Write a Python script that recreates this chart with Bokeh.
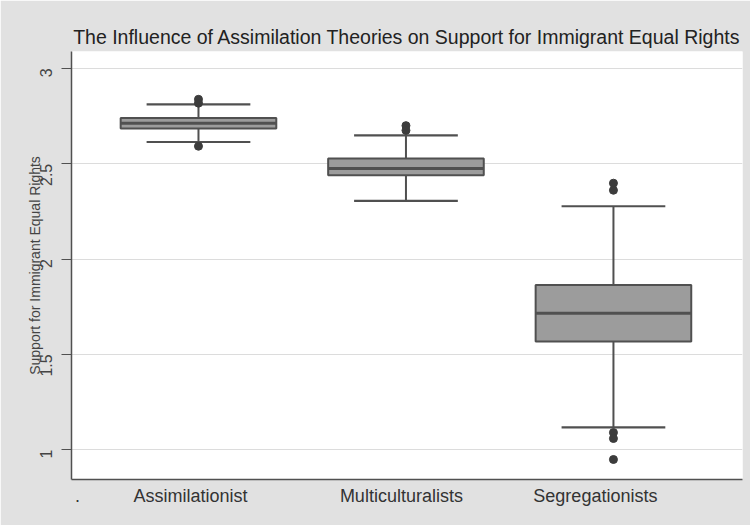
from bokeh.plotting import figure
from bokeh.models import FixedTicker, Range1d
from bokeh.embed import file_html
from bokeh.resources import INLINE

# Box plot summaries per group
groups = ["Assimilationist", "Multiculturalists", "Segregationists"]
q1 = [2.685, 2.440, 1.567]
median = [2.712, 2.475, 1.716]
q3 = [2.740, 2.527, 1.864]
lower_whisker = [2.614, 2.305, 1.117]
upper_whisker = [2.812, 2.649, 2.277]

# Outlying observations
outlier_group = [1, 1, 1, 2, 2, 3, 3, 3, 3, 3]
outlier_value = [2.838, 2.818, 2.592, 2.700, 2.675, 2.398, 2.361, 1.089, 1.058, 0.948]

# Category axis labels (first slot is the missing-value category)
tick_labels = [".", "Assimilationist", "Multiculturalists", "Segregationists"]
y_ticks = [1, 1.5, 2, 2.5, 3]

xs = [1, 2, 3]
BOX_W = 0.75
CAP_W = 0.5
BG = "#e1e1e1"
INK = "#505050"

p = figure(width=750, height=525, output_backend="svg", toolbar_location=None,
           x_range=Range1d(0.388, 3.622), y_range=Range1d(0.843, 3.089),
           min_border_left=71, min_border_right=8, min_border_top=51,
           min_border_bottom=46,
           background_fill_color="white", border_fill_color=BG)

p.title.text = "The Influence of Assimilation Theories on Support for Immigrant Equal Rights"
p.title.align = "center"
p.title.text_font = "Liberation Sans"
p.title.text_font_size = "19.5px"
p.title.text_font_style = "normal"
p.title.text_color = "#222222"
p.title.standoff = 8

p.outline_line_color = None

# Grid
p.xgrid.grid_line_color = None
p.ygrid.grid_line_color = "#dcdcdc"
p.ygrid.grid_line_width = 1.2
p.yaxis.ticker = FixedTicker(ticks=y_ticks)

# Y axis
p.yaxis.axis_label = "Support for Immigrant Equal Rights"
p.yaxis.axis_label_text_font = "Liberation Sans"
p.yaxis.axis_label_text_font_size = "14px"
p.yaxis.axis_label_text_font_style = "normal"
p.yaxis.axis_label_text_color = "#444444"
p.yaxis.axis_label_standoff = -11
p.yaxis.major_label_orientation = 1.5708
p.yaxis.major_label_text_font = "Liberation Sans"
p.yaxis.major_label_text_font_size = "16px"
p.yaxis.major_label_text_color = "#444444"
p.yaxis.major_label_standoff = 15
p.yaxis.axis_line_color = INK
p.yaxis.axis_line_width = 1.5
p.yaxis.major_tick_line_color = INK
p.yaxis.major_tick_out = 10
p.yaxis.major_tick_in = 0
p.yaxis.minor_tick_line_color = None

# X axis with category labels
label_pos = [0.417, 0.962, 1.978, 2.913]
p.xaxis.ticker = FixedTicker(ticks=label_pos)
p.xaxis.major_label_overrides = {pos: lab for pos, lab in zip(label_pos, tick_labels)}
p.xaxis.major_label_text_font = "Liberation Sans"
p.xaxis.major_label_text_font_size = "18px"
p.xaxis.major_label_text_color = "#333333"
p.xaxis.major_label_standoff = 0
p.xaxis.major_tick_line_color = None
p.xaxis.minor_tick_line_color = None
p.xaxis.axis_line_color = INK
p.xaxis.axis_line_width = 1.5

# Whiskers
p.segment(x0=xs, x1=xs, y0=q3, y1=upper_whisker, line_color=INK, line_width=2)
p.segment(x0=xs, x1=xs, y0=lower_whisker, y1=q1, line_color=INK, line_width=2)
p.segment(x0=[x - CAP_W / 2 for x in xs], x1=[x + CAP_W / 2 for x in xs],
          y0=upper_whisker, y1=upper_whisker, line_color=INK, line_width=2.2)
p.segment(x0=[x - CAP_W / 2 for x in xs], x1=[x + CAP_W / 2 for x in xs],
          y0=lower_whisker, y1=lower_whisker, line_color=INK, line_width=2.2)

# Boxes and medians
p.vbar(x=xs, width=BOX_W, bottom=q1, top=q3, fill_color="#9c9c9c",
       line_color=INK, line_width=2)
p.segment(x0=[x - BOX_W / 2 for x in xs], x1=[x + BOX_W / 2 for x in xs],
          y0=median, y1=median, line_color=INK, line_width=3)

# Outliers
p.scatter(x=outlier_group, y=outlier_value, size=8, fill_color="#3c3c3c",
          line_color="#3c3c3c")

open("out.html", "w").write(file_html(p, INLINE))
